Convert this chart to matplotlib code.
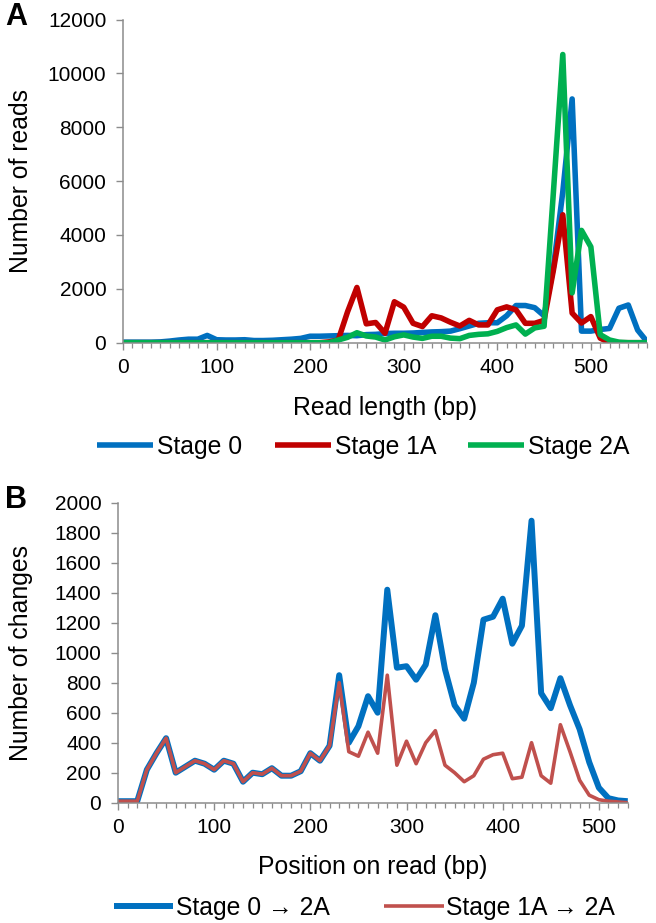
import numpy as np
import matplotlib as mpl
mpl.use('Agg')
import matplotlib.pyplot as plt
from matplotlib.ticker import MultipleLocator

plt.rcParams['font.family'] = ['Liberation Sans', 'DejaVu Sans']
plt.rcParams['font.size'] = 17.8
plt.rcParams['xtick.labelsize'] = 15
plt.rcParams['ytick.labelsize'] = 15

# ---- panel A: read length distribution (every 10 bp, 0..560) ----
len_bp = np.arange(0, 570, 10)
stage0 = [20, 20, 20, 20, 30, 60, 100, 130, 130, 270, 110, 100, 100, 110, 80, 80, 90, 110, 130, 160,
          240, 240, 250, 260, 270, 260, 300, 310, 340, 350, 350, 360, 380, 400, 410, 430, 520, 620, 720, 740,
          740, 1000, 1380, 1380, 1300, 1000, 2800, 5600, 9050, 430, 430, 490, 530, 1280, 1400, 470, 40]
stage1a = [0, 0, 0, 0, 0, 0, 0, 0, 0, 0, 0, 0, 0, 0, 0, 0, 0, 0, 0, 0,
           0, 0, 30, 100, 1150, 2050, 700, 750, 350, 1520, 1320, 720, 600, 1000, 920, 760, 620, 830, 660, 660,
           1220, 1330, 1220, 720, 720, 830, 2700, 4750, 1100, 730, 970, 170, 0, 0, 0, 0, 0]
stage2a = [0, 0, 0, 0, 0, 0, 0, 0, 0, 0, 0, 0, 0, 0, 0, 0, 0, 0, 0, 0,
           0, 0, 0, 100, 200, 370, 250, 210, 100, 220, 290, 210, 160, 240, 240, 170, 150, 270, 310, 330,
           420, 560, 660, 320, 550, 610, 5600, 10700, 1850, 4170, 3560, 300, 100, 20, 0, 0, 0]

# ---- panel B: changes along the read (every 10 bp, 0..530) ----
pos_bp = np.arange(0, 540, 10)
chg_0_2a = [10, 10, 10, 220, 330, 430, 200, 240, 280, 260, 220, 280, 260, 140, 200, 190, 230, 180, 180, 210,
            330, 280, 380, 850, 400, 510, 710, 600, 1420, 900, 910, 820, 920, 1250, 890, 650, 560, 800, 1220, 1240,
            1360, 1060, 1180, 1880, 730, 630, 830, 650, 490, 270, 100, 30, 15, 10]
chg_1a_2a = [10, 10, 10, 220, 330, 430, 200, 240, 280, 260, 220, 280, 260, 140, 200, 190, 230, 180, 180, 210,
             330, 280, 380, 800, 340, 310, 470, 330, 850, 250, 410, 260, 400, 480, 250, 200, 140, 180, 290, 320,
             330, 160, 170, 400, 180, 130, 520, 340, 150, 50, 20, 10, 5, 0]

W, H = 656, 923
fig = plt.figure(figsize=(W / 100, H / 100), dpi=100)

def px_axes(l, t, r, b):
    return fig.add_axes([l / W, 1 - b / H, (r - l) / W, (b - t) / H])

def style(ax):
    for s in ['top', 'right']:
        ax.spines[s].set_visible(False)
    for s in ['left', 'bottom']:
        ax.spines[s].set_color('#8c8c8c')
        ax.spines[s].set_linewidth(1.1)
    ax.tick_params(which='major', direction='out', length=5, width=1.0, color='#8c8c8c')
    ax.tick_params(axis='x', which='major', pad=6)
    ax.tick_params(axis='y', which='major', pad=7)
    ax.tick_params(which='minor', direction='out', length=3.5, width=0.9, color='#8c8c8c')
    ax.xaxis.set_minor_locator(MultipleLocator(10))
    ax.xaxis.set_major_locator(MultipleLocator(100))

blue = '#0070C0'
lkw = dict(solid_joinstyle='round', solid_capstyle='butt')

# panel A
axA = px_axes(123, 19.5, 647, 342.7)
axA.plot(len_bp, stage0, color=blue, lw=4, label='Stage 0', **lkw)
axA.plot(len_bp, stage1a, color='#C00000', lw=4, label='Stage 1A', **lkw)
axA.plot(len_bp, stage2a, color='#00B050', lw=4, label='Stage 2A', **lkw)
axA.set_xlim(0, 560)
axA.set_ylim(0, 12000)
axA.yaxis.set_major_locator(MultipleLocator(2000))
style(axA)
axA.set_xlabel('Read length (bp)')
axA.set_ylabel('Number of reads')
axA.xaxis.set_label_coords(0.5, (342.7 - 408) / 323.2)
axA.xaxis.label.set_va('center')
axA.yaxis.set_label_coords((21 - 123) / 524, 0.5)
axA.yaxis.label.set_va('center')
fig.legend(*axA.get_legend_handles_labels(), loc='center', bbox_to_anchor=(363.5 / W, 1 - 447 / H),
           ncol=3, frameon=False, handlelength=2.27, handletextpad=0.16, columnspacing=1.3,
           borderaxespad=0, borderpad=0)

# panel B
axB = px_axes(118, 502.7, 627.7, 802.7)
axB.plot(pos_bp, chg_0_2a, color=blue, lw=4.3, label='Stage 0 \u2192 2A', **lkw)
axB.plot(pos_bp, chg_1a_2a, color='#C0504D', lw=2.6, label='Stage 1A \u2192 2A', **lkw)
axB.set_xlim(0, 530)
axB.set_ylim(0, 2000)
axB.yaxis.set_major_locator(MultipleLocator(200))
style(axB)
axB.set_xlabel('Position on read (bp)')
axB.set_ylabel('Number of changes')
axB.xaxis.set_label_coords(0.5, (802.7 - 867) / 300)
axB.xaxis.label.set_va('center')
axB.yaxis.set_label_coords((21 - 118) / 509.7, 0.5)
axB.yaxis.label.set_va('center')
fig.legend(*axB.get_legend_handles_labels(), loc='center', bbox_to_anchor=(364.5 / W, 1 - 908 / H),
           ncol=2, frameon=False, handlelength=2.4, handletextpad=0.12, columnspacing=2.2,
           borderaxespad=0, borderpad=0)

fig.text(5 / W, 1 - 17 / H, 'A', fontsize=22, fontweight='bold', va='center', ha='left')
fig.text(5 / W, 1 - 500 / H, 'B', fontsize=22, fontweight='bold', va='center', ha='left')

fig.savefig('out.png', dpi=100)
